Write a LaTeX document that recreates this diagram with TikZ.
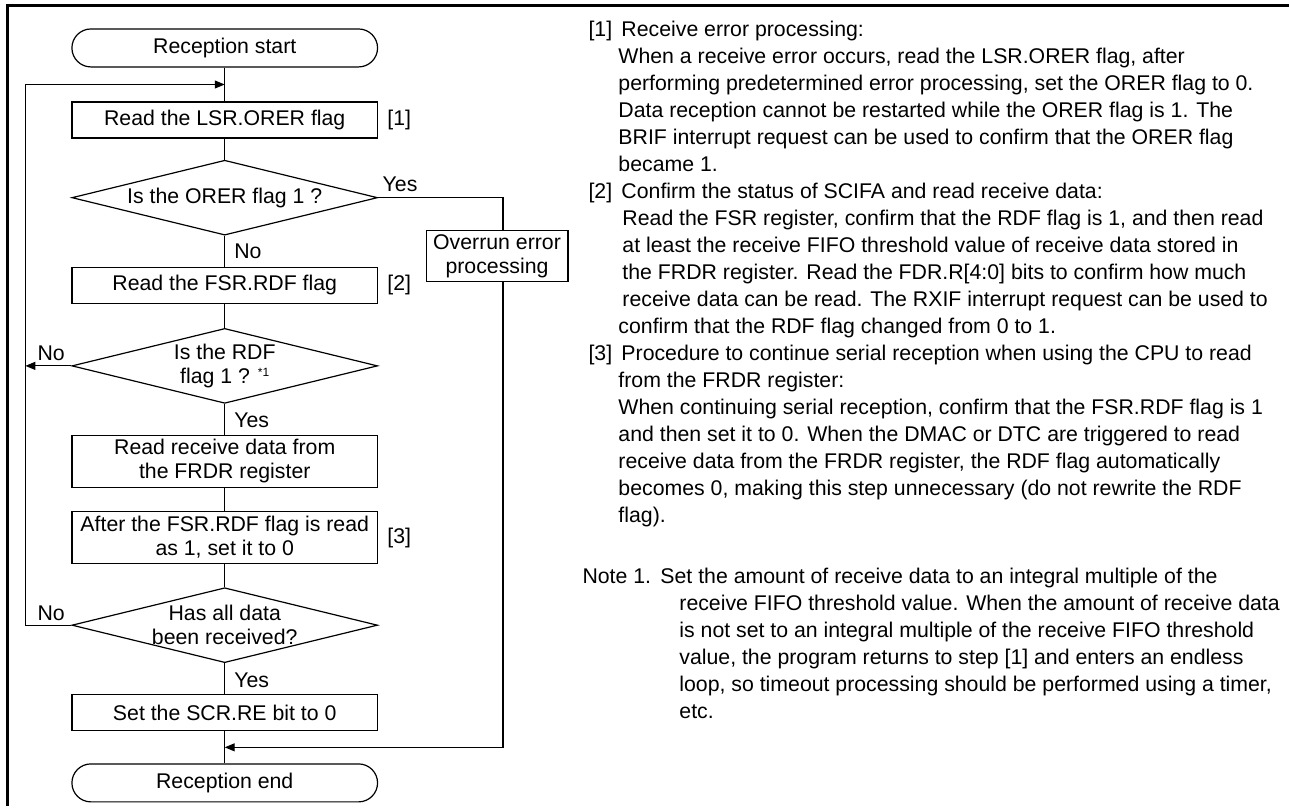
\documentclass[tikz,border=0pt]{standalone}
\usepackage{fontspec}
\setmainfont{Liberation Sans}
\usetikzlibrary{shapes.geometric, positioning, arrows.meta, calc}
\tikzset{
  startstop/.style={rectangle, rounded corners=19pt, minimum width=306pt, minimum height=38pt, inner sep=0pt, draw=black, line width=1.2pt},
  process/.style={rectangle, minimum width=306pt, minimum height=36pt, inner sep=0pt, align=center, draw=black, line width=1.2pt},
  decision/.style={diamond, minimum width=306pt, minimum height=75pt, inner sep=0pt, draw=black, line width=1.2pt},
  conn/.style={line width=1.2pt},
  arrow/.style={line width=1.2pt, -{Triangle[length=10pt,width=8pt]}},
  tag/.style={anchor=west, inner sep=0pt},
  notetext/.style={anchor=north west, align=left, inner sep=0pt, font=\fontsize{21.3}{27}\selectfont}
}
\newcommand{\starmark}[1]{\raisebox{7pt}{\fontsize{12}{12}\selectfont #1}}

\begin{document}
\begin{tikzpicture}[x=1pt, y=-1pt,
            node distance=23pt,
            every node/.style={font=\fontsize{21.3}{24}\selectfont}
        ]
            \fill[white] (0,0) rectangle (1290,807);
            \draw[line width=3pt] (7.5,807) -- (7.5,6) -- (1290,6);

            % --- Flowchart ---
            \node (start) [startstop] at (225,48) {Reception start};
            \node (lsr) [process, below=34pt of start] {Read the LSR.ORER flag};
            \node (orer) [decision, below=21pt of lsr, label={center:Is the ORER flag 1 ?}] {};
            \node (fsr) [process, below=31pt of orer] {Read the FSR.RDF flag};
            \node (rdf) [decision, below=24pt of fsr, label={[align=center]center:Is the RDF\\flag 1 ? \starmark{*1}}] {};
            \node (frdr) [process, below=31pt of rdf, minimum height=52pt] {Read receive data from\\the FRDR register};
            \node (clear) [process, below=23pt of frdr, minimum height=52pt] {After the FSR.RDF flag is read\\as 1, set it to 0};
            \node (alldata) [decision, below=23pt of clear, label={[align=center]center:Has all data\\been received?}] {};
            \node (scr) [process, below=31pt of alldata] {Set the SCR.RE bit to 0};
            \node (fin) [startstop, below=32pt of scr] {Reception end};
            \node (overrun) [process, minimum width=142pt, minimum height=51pt] at ($(orer.east)+(119pt,-58.5pt)$) {Overrun error\\processing};

            % --- Step marks ---
            \node [tag, right=9pt of lsr] {[1]};
            \node [tag, right=9pt of fsr] {[2]};
            \node [tag, right=9pt of clear] {[3]};

            % --- Helper points ---
            \coordinate (loop) at ($(start.south)!0.5!(lsr.north)$);
            \coordinate (merge) at ($(scr.south)!0.5!(fin.north)$);
            \coordinate (bus) at ([xshift=-46pt]orer.west);

            % --- Connectors ---
            \draw [conn] (start) -- (lsr);
            \draw [conn] (lsr) -- (orer);
            \draw [conn] (orer) -- (fsr);
            \draw [conn] (fsr) -- (rdf);
            \draw [conn] (rdf) -- (frdr);
            \draw [conn] (frdr) -- (clear);
            \draw [conn] (clear) -- (alldata);
            \draw [conn] (alldata) -- (scr);
            \draw [conn] (scr) -- (fin);

            \draw [conn] (orer.east) -| ([xshift=6pt]overrun.north);
            \draw [arrow] ([xshift=6pt]overrun.south) |- (merge);
            \draw [arrow] (rdf.west) -- (rdf.west -| bus);
            \draw [arrow] (alldata.west) -| (bus) |- (loop);

            % --- Branch labels ---
            \node [anchor=base west] at ([shift={(1pt,6pt)}]orer.east) {Yes};
            \node [anchor=base west] at ([shift={(6pt,-22.5pt)}]orer.south) {No};
            \node [anchor=base east] at ([shift={(-3pt,5pt)}]rdf.west) {No};
            \node [anchor=base west] at ([shift={(6pt,-24pt)}]rdf.south) {Yes};
            \node [anchor=base east] at ([shift={(-3pt,5pt)}]alldata.west) {No};
            \node [anchor=base west] at ([shift={(6pt,-24pt)}]alldata.south) {Yes};

            % --- Notes ---
            \node (tag1) [notetext] at (589,21) {{[1]}};
            \node (text1) [notetext] at (619,21) {\hspace*{3pt}Receive error processing:\\
              When a receive error occurs, read the LSR.ORER flag, after\\
              performing predetermined error processing, set the ORER flag to 0.\\
              Data reception cannot be restarted while the ORER flag is 1. The\\
              BRIF interrupt request can be used to confirm that the ORER flag\\
              became 1.};
            \node (tag2) [notetext] at (589,183) {{[2]}};
            \node (text2) [notetext] at (619,183) {\hspace*{3pt}Confirm the status of SCIFA and read receive data:\\
              \hspace*{4pt}Read the FSR register, confirm that the RDF flag is 1, and then read\\
              \hspace*{4pt}at least the receive FIFO threshold value of receive data stored in\\
              \hspace*{4pt}the FRDR register. Read the FDR.R[4:0] bits to confirm how much\\
              \hspace*{4pt}receive data can be read. The RXIF interrupt request can be used to\\
              confirm that the RDF flag changed from 0 to 1.};
            \node (tag3) [notetext] at (589,345) {{[3]}};
            \node (text3) [notetext] at (619,345) {\hspace*{3pt}Procedure to continue serial reception when using the CPU to read\\
              from the FRDR register:\\
              When continuing serial reception, confirm that the FSR.RDF flag is 1\\
              and then set it to 0. When the DMAC or DTC are triggered to read\\
              receive data from the FRDR register, the RDF flag automatically\\
              becomes 0, making this step unnecessary (do not rewrite the RDF\\
              flag).};
            \node (tagnote) [notetext] at (583,569) {Note 1.};
            \node (textnote) [notetext] at (680,569) {\hspace*{-19pt}Set the amount of receive data to an integral multiple of the\\
              receive FIFO threshold value. When the amount of receive data\\
              is not set to an integral multiple of the receive FIFO threshold\\
              value, the program returns to step [1] and enters an endless\\
              loop, so timeout processing should be performed using a timer,\\
              etc.};
        \end{tikzpicture}
\end{document}
